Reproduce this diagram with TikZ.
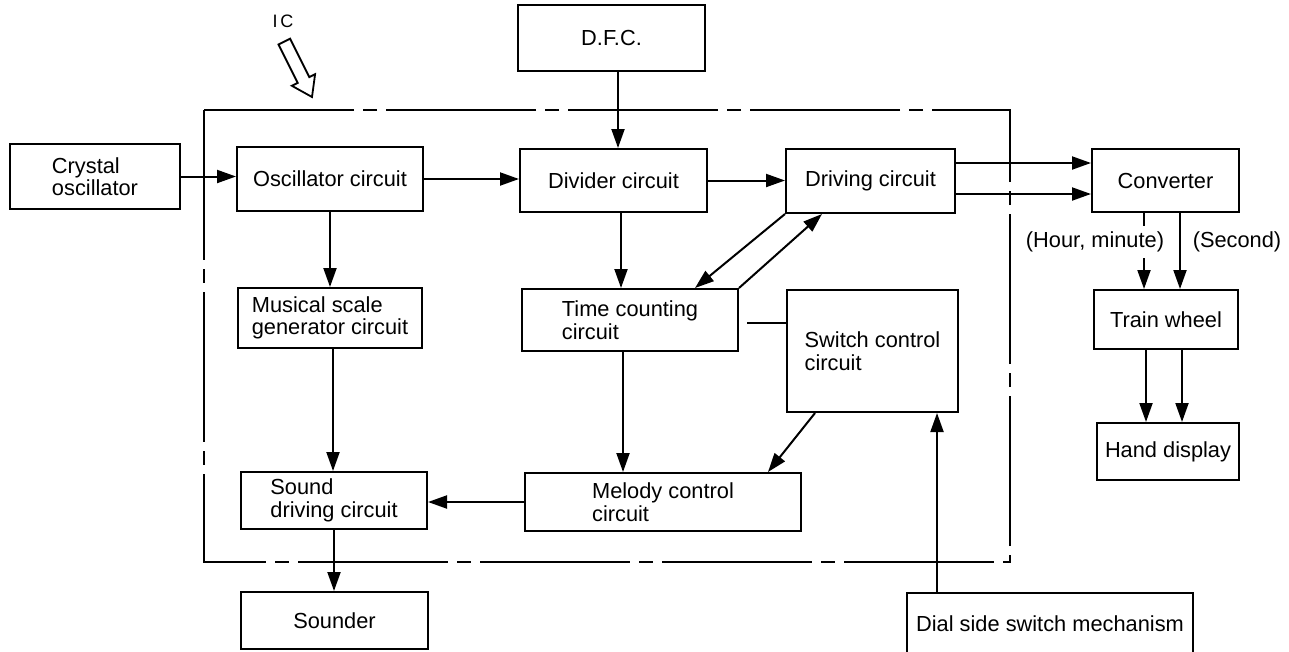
\documentclass[tikz,border=0pt]{standalone}
\usepackage{fontspec}
\setmainfont{Liberation Sans}
\usetikzlibrary{arrows.meta}
\tikzset{
  blk/.style={draw, line width=2pt, inner sep=0pt, align=left,
    font=\fontsize{21.8}{22.5}\selectfont},
  arr/.style={line width=2pt, -{Triangle[length=19pt,width=13pt]}},
  plain/.style={line width=2pt},
  lbl/.style={font=\fontsize{21.8}{22.5}\selectfont, inner sep=1pt}
}
\begin{document}
\begin{tikzpicture}[x=1pt,y=-1pt]
\useasboundingbox[fill=white] (0,0) rectangle (1289,651);
\clip (0,0) rectangle (1289,651);

% IC boundary
\draw[line width=2pt, dash pattern=on 150pt off 9pt on 14pt off 9pt]
  (204,110) rectangle (1010,562);
\node[font=\fontsize{18}{20}\selectfont, inner sep=1pt] (ic) at (283,21) {I\kern3pt C};
\draw[line width=1.8pt, fill=white, line join=miter]
  (312,97) -- (315.1,74.2) -- (309.3,77.1) -- (290.1,38.7) -- (278.5,44.5)
  -- (297.7,82.9) -- (291.9,85.8) -- cycle;

% blocks
\node[blk, minimum width=170pt, minimum height=65pt] (crystal) at (95,176.5) {Crystal\\oscillator};
\node[blk, minimum width=186pt, minimum height=64pt] (osc) at (330,179) {Oscillator circuit};
\node[blk, minimum width=187pt, minimum height=66pt] (dfc) at (611.5,38) {D.F.C.};
\node[blk, minimum width=187pt, minimum height=63pt] (div) at (613.5,180.5) {Divider circuit};
\node[blk, minimum width=169pt, minimum height=64pt] (drv) at (870.5,181) {Driving circuit};
\node[blk, minimum width=147pt, minimum height=63pt] (conv) at (1165.5,180.5) {Converter};
\node[blk, minimum width=144pt, minimum height=59pt] (train) at (1166,319.5) {Train wheel};
\node[blk, minimum width=142pt, minimum height=57pt] (hand) at (1168,451.5) {Hand display};
\node[blk, minimum width=184pt, minimum height=60pt] (mus) at (330,318) {Musical scale\\generator circuit};
\node[blk, minimum width=216pt, minimum height=62pt] (time) at (630,320) {Time counting\\circuit};
\node[blk, minimum width=171pt, minimum height=122pt] (sw) at (872.5,351) {Switch control\\circuit};
\node[blk, minimum width=186pt, minimum height=57pt] (snd) at (334,500.5) {Sound\\driving circuit};
\node[blk, minimum width=276pt, minimum height=58pt] (mel) at (663,502) {Melody control\\circuit};
\node[blk, minimum width=187pt, minimum height=57pt] (sounder) at (334.5,620.5) {Sounder};
\node[blk, minimum width=286pt, minimum height=62pt] (dial) at (1050,624) {Dial side switch mechanism};

% connectors
\draw[arr] (crystal.east) -- (crystal.east -| osc.west);
\draw[arr] (osc.east) -- (osc.east -| div.west);
\draw[arr] (div.east) -- (div.east -| drv.west);
\draw[arr] (dfc.south -| 618,0) -- (div.north -| 618,0);
\draw[arr] (drv.east |- 0,163) -- (conv.west |- 0,163);
\draw[arr] (drv.east |- 0,194) -- (conv.west |- 0,194);
\draw[arr] (osc.south) -- (mus.north);
\draw[arr] (mus.south -| 333,0) -- (snd.north -| 333,0);
\draw[arr] (snd.south) -- (sounder.north -| snd.south);
\draw[arr] (div.south -| 621,0) -- (time.north -| 621,0);
\draw[arr] (time.south -| 623,0) -- (mel.north -| 623,0);
\draw[arr] (drv.south west) -- (time.north -| 695,0);
\draw[arr] (time.north east) -- (drv.south -| 822,0);
\draw[plain] ([xshift=8pt]time.east |- 0,323) -- (sw.west |- 0,323);
\draw[arr] (sw.south -| 815,0) -- (mel.north -| 768,0);
\draw[arr] (mel.west) -- (mel.west -| snd.east);
\draw[arr] (dial.north -| 937,0) -- (sw.south -| 937,0);
\draw[arr] (conv.south -| 1144,0) -- (train.north -| 1144,0);
\draw[arr] (conv.south -| 1180,0) -- (train.north -| 1180,0);
\draw[arr] (train.south -| 1146,0) -- (hand.north -| 1146,0);
\draw[arr] (train.south -| 1182,0) -- (hand.north -| 1182,0);
\node[lbl, fill=white, inner ysep=6pt] (hm) at (1095,242) {(Hour, minute)};
\node[lbl] (sec) at (1237,242) {(Second)};
\end{tikzpicture}
\end{document}
